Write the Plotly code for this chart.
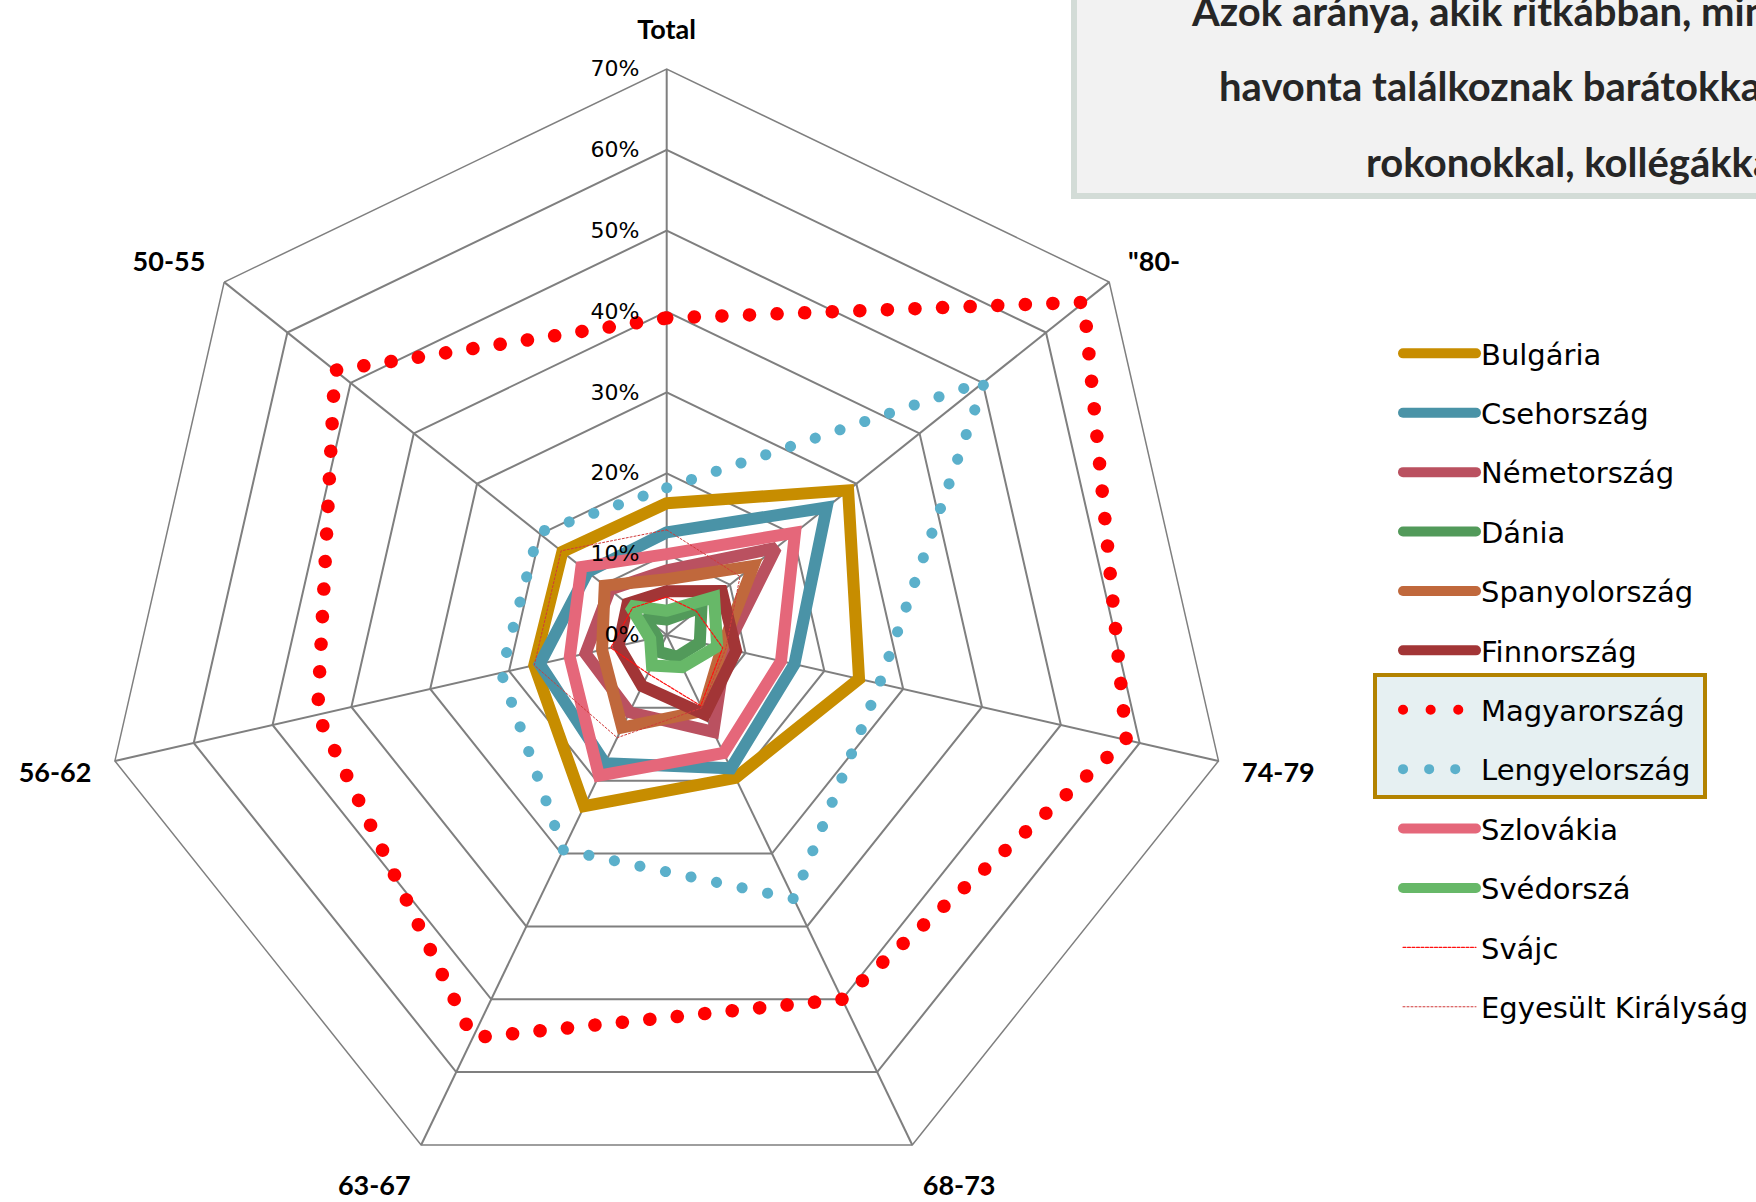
import plotly.graph_objects as go

categories = ['Total', '"80-', '74-79', '68-73', '63-67', '56-62', '50-55']
radial_ticks = [0, 0.1, 0.2, 0.3, 0.4, 0.5, 0.6, 0.7]

bulgaria = [0.163, 0.287, 0.244, 0.196, 0.235, 0.168, 0.165]
csehorszag = [0.127, 0.253, 0.162, 0.183, 0.176, 0.161, 0.125]
nemetorszag = [0.080, 0.173, 0.075, 0.133, 0.106, 0.103, 0.090]
dania = [0.019, 0.055, 0.042, 0.030, 0.023, 0.012, 0.035]
spanyolorszag = [0.069, 0.137, 0.070, 0.104, 0.127, 0.082, 0.098]
finnorszag = [0.054, 0.087, 0.088, 0.109, 0.070, 0.061, 0.062]
magyarorszag = [0.392, 0.660, 0.583, 0.500, 0.553, 0.443, 0.525]
lengyelorszag = [0.182, 0.503, 0.270, 0.362, 0.295, 0.210, 0.203]
szlovakia = [0.100, 0.203, 0.145, 0.162, 0.193, 0.123, 0.135]
svedorszag = [0.030, 0.075, 0.064, 0.044, 0.042, 0.021, 0.058]
svajc = [0.047, 0.047, 0.071, 0.097, 0.053, 0.071, 0.054]
egyesult = [0.130, 0.116, 0.075, 0.100, 0.141, 0.168, 0.167]

title_lines = ['Azok aránya, akik ritkábban, mint',
               'havonta találkoznak barátokkal,',
               'rokonokkal, kollégákkal']

series = [
    ('Bulgária', bulgaria, '#C78D00', 12, 'solid'),
    ('Csehország', csehorszag, '#4A93A7', 12, 'solid'),
    ('Németország', nemetorszag, '#BA5160', 12, 'solid'),
    ('Dánia', dania, '#529A5A', 12, 'solid'),
    ('Spanyolország', spanyolorszag, '#C0683C', 12, 'solid'),
    ('Finnország', finnorszag, '#A23536', 12, 'solid'),
    ('Magyarország', magyarorszag, '#FF0000', 13.5, '0.1px,27.5px'),
    ('Lengyelország', lengyelorszag, '#5BB0CB', 11, '0.1px,26px'),
    ('Szlovákia', szlovakia, '#E5677A', 12, 'solid'),
    ('Svédorszá', svedorszag, '#67B868', 12, 'solid'),
    ('Svájc', svajc, '#FF1010', 1.2, '3px,1.5px'),
    ('Egyesült Királyság', egyesult, '#D03A3A', 1, '2px,2px'),
]

fig = go.Figure()
for i, (name, vals, color, width, dash) in enumerate(series):
    fig.add_trace(go.Scatterpolar(
        r=vals + vals[:1],
        theta=categories + categories[:1],
        mode='lines',
        name=name,
        line=dict(color=color, width=width, dash=dash),
        legendgroup='g%d' % i,
        hoverinfo='skip',
    ))

W, H = 1756, 1202
cx, cy, R = 666.7, 635.0, 566.0

grid_col = '#7F7F7F'
fig.update_layout(
    width=W, height=H,
    margin=dict(l=0, r=0, t=0, b=0),
    paper_bgcolor='white',
    showlegend=True,
    polar=dict(
        domain=dict(x=[(cx - R) / W, (cx + R) / W], y=[1 - (cy + R) / H, 1 - (cy - R) / H]),
        bgcolor='white',
        gridshape='linear',
        angularaxis=dict(
            type='category', categoryarray=categories, rotation=90, direction='clockwise',
            showline=True, linecolor=grid_col, linewidth=1.5,
            gridcolor=grid_col, gridwidth=1.5,
            ticks='outside', ticklen=18, tickcolor='rgba(0,0,0,0)',
            tickfont=dict(family='Lato', size=27, color='black', weight='bold'),
        ),
        radialaxis=dict(
            range=[0, 0.7], tickvals=radial_ticks, tickformat='.0%', angle=90,
            side='counterclockwise', tickangle=90,
            showline=False, gridcolor=grid_col, gridwidth=1.5,
            ticks='outside', ticklen=19, tickcolor='rgba(0,0,0,0)',
            tickfont=dict(family='DejaVu Sans', size=22, color='black'),
            layer='above traces',
        ),
    ),
    legend=dict(
        x=1398 / W, y=1 - 328 / H, xanchor='left', yanchor='top',
        font=dict(family='DejaVu Sans', size=29, color='black'),
        bgcolor='rgba(0,0,0,0)', traceorder='grouped', tracegroupgap=18.7,
        itemwidth=73,
    ),
)

# title box with shadow
fig.add_shape(type='rect', xref='paper', yref='paper',
              x0=1071 / W, x1=1.02, y0=1 - 199 / H, y1=1.02,
              fillcolor='#D3DCD7', line=dict(width=0), layer='above')
fig.add_shape(type='rect', xref='paper', yref='paper',
              x0=1077 / W, x1=1.02, y0=1 - 193 / H, y1=1.02,
              fillcolor='#F2F2F2', line=dict(width=0), layer='above')
# highlight box in legend
fig.add_shape(type='rect', xref='paper', yref='paper',
              x0=1375 / W, x1=1705 / W, y0=1 - 797 / H, y1=1 - 675 / H,
              fillcolor='#E6F0F2', line=dict(color='#B38300', width=4), layer='above')

title_pos = [(1189, 11), (1217, 86), (1364, 162)]
for txt, (tx, ty) in zip(title_lines, title_pos):
    fig.add_annotation(text=txt, xref='paper', yref='paper', x=tx / W, y=1 - ty / H,
                       xanchor='left', yanchor='middle', showarrow=False,
                       font=dict(family='Lato', size=40, color='#262626', weight='bold'))

post = """
document.body.style.margin = '0';
document.body.style.overflow = 'hidden';
var gd = document.getElementById('{plot_id}');
function fixCaps(){
  gd.querySelectorAll('path.js-line').forEach(function(p){ p.style.strokeLinecap='round'; });
}
fixCaps();
if (gd.on) { gd.on('plotly_afterplot', fixCaps); }
"""

fig.write_html('out.html', post_script=post, config={'displayModeBar': False})
